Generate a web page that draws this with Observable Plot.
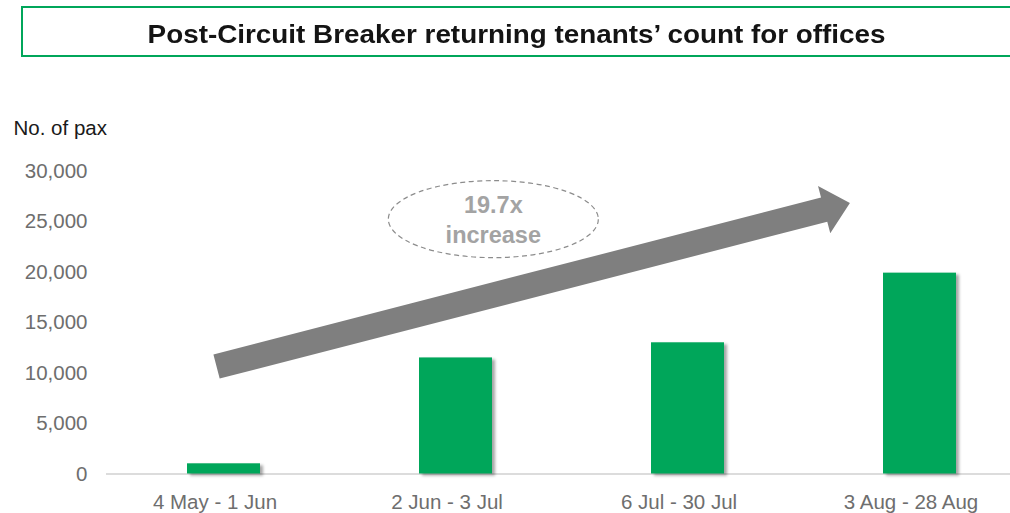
<!DOCTYPE html>
<html>
<head>
<meta charset="utf-8">
<script src="https://cdn.jsdelivr.net/npm/d3@7"></script>
<script src="https://cdn.jsdelivr.net/npm/@observablehq/plot@0.6"></script>
<style>
  html, body { margin: 0; padding: 0; background: #fff; }
  body { width: 1010px; height: 513px; overflow: hidden; font-family: "Liberation Sans", Arial, sans-serif; }
  #title { position: relative; width: 1010px; height: 60px; overflow: hidden; }
  #title .box { position: absolute; left: 21px; top: 6px; width: 2000px; height: 46.7px; border: 2.3px solid #00a65a; border-right: none; box-sizing: content-box; }
  #title .txt { position: absolute; left: 0; width: 1034px; top: 20.7px; text-align: center; line-height: 26px; white-space: nowrap; }
  #title .txt span { display: inline-block; font-weight: bold; font-size: 26px; color: #141414; transform-origin: center; }
  #chart svg { display: block; }
</style>
</head>
<body>
<div id="title"><div class="box"></div><div class="txt"><span id="titleText"></span></div></div>
<div id="chart"></div>
<script>
// ---- data ----
const titleText = "Post-Circuit Breaker returning tenants\u2019 count for offices";
const yLabel = "No. of pax";
const categories = ["4 May - 1 Jun", "2 Jun - 3 Jul", "6 Jul - 30 Jul", "3 Aug - 28 Aug"];
const values = [1010, 11500, 13000, 19900];
const yTicks = [0, 5000, 10000, 15000, 20000, 25000, 30000];
// annotation: arrow from/to, in category steps (0 = first category) and y values
const arrowX = [-0.03, 2.70];
const arrowY = [10600, 26800];
const noteLines = ["19.7x", "increase"];
const noteX = [1.163];
const noteY = [25200];

// ---- title ----
const ts = document.getElementById("titleText");
ts.textContent = titleText;
const w0 = ts.getBoundingClientRect().width;
ts.style.transform = `scaleX(${738 / w0})`;

const data = categories.map((c, i) => ({category: c, value: values[i]}));
const padInner = 0.686;

function annotations(index, scales) {
  const x = scales.x, y = scales.y;
  const c0 = x(categories[0]), c1 = x(categories[1]);
  const step = c1 - c0;
  const bw = typeof x.bandwidth === "function" ? x.bandwidth() : step * (1 - padInner);
  const px = t => c0 + bw / 2 + t * step;
  const g = d3.create("svg:g");
  // arrow
  const T = [px(arrowX[0]), y(arrowY[0])];
  const P = [px(arrowX[1]), y(arrowY[1])];
  const len = Math.hypot(P[0] - T[0], P[1] - T[1]);
  const u = [(P[0] - T[0]) / len, (P[1] - T[1]) / len];
  const n = [-u[1], u[0]];
  const hw = 12.5, hh = 24.5, hl = 26.6;
  const B = [P[0] - u[0] * hl, P[1] - u[1] * hl];
  const pt = (p, k) => [p[0] + n[0] * k, p[1] + n[1] * k];
  const poly = [pt(T, hw), pt(B, hw), pt(B, hh), P, pt(B, -hh), pt(B, -hw), pt(T, -hw)];
  g.append("path").attr("d", "M" + poly.map(p => p.join(",")).join("L") + "Z").attr("fill", "#7f7f7f");
  // dashed ellipse + text
  const ex = px(noteX[0]), ey = y(noteY[0]);
  g.append("ellipse").attr("cx", ex).attr("cy", ey).attr("rx", 105).attr("ry", 38.5)
    .attr("fill", "none").attr("stroke", "#8c8c8c").attr("stroke-width", 1.2).attr("stroke-dasharray", "5,3.5");
  const offs = [-5.9, 23.5];
  noteLines.forEach((t, i) => {
    g.append("text").attr("x", ex).attr("y", ey + offs[i]).attr("text-anchor", "middle")
      .attr("font-size", 23.5).attr("font-weight", "bold").attr("fill", "#a3a3a3").text(t);
  });
  return g.node();
}

const chart = Plot.plot({
  width: 1010,
  height: 453,
  marginLeft: 106,
  marginRight: 0,
  marginTop: 110.7,
  marginBottom: 39.5,
  style: {fontFamily: "'Liberation Sans', Arial, sans-serif", background: "white", overflow: "hidden"},
  x: {type: "band", domain: categories, range: [106, 1036], paddingInner: padInner, paddingOuter: padInner / 2, align: 0.5},
  y: {domain: [0, 30000]},
  marks: [
    Plot.ruleY([0], {stroke: "#d0d0d0", strokeWidth: 1.5}),
    Plot.barY(data, {x: "category", y: "value", fill: "#00a65a", imageFilter: "drop-shadow(3px 2px 1.5px rgba(0,0,0,0.35))"}),
    Plot.axisY({ticks: yTicks, tickSize: 0, tickPadding: 19, tickFormat: d3.format(","), fontSize: 20.5, fill: "#6e6e6e", label: null}),
    Plot.axisX({tickSize: 0, tickPadding: 20, dx: -9, fontSize: 20.5, fill: "#6e6e6e", label: null}),
    Plot.text([yLabel], {text: d => d, frameAnchor: "top-left", dx: -93, dy: -51, textAnchor: "start", fontSize: 20.5, fill: "#1a1a1a"}),
    annotations
  ]
});
document.getElementById("chart").appendChild(chart);
</script>
</body>
</html>
